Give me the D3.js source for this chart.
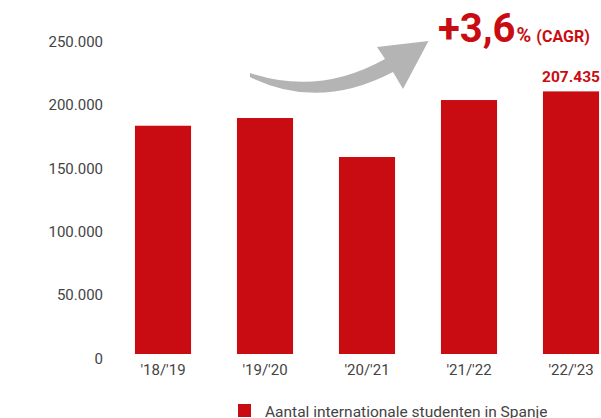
<!DOCTYPE html>
<html>
<head>
<meta charset="utf-8">
<script src="https://cdn.jsdelivr.net/npm/d3@7"></script>
<style>
  html, body { margin: 0; padding: 0; background: #fff; }
  svg { display: block; font-family: Roboto, "Noto Sans", sans-serif; }
</style>
</head>
<body>
<svg id="chart" width="601" height="418"></svg>
<script>
// Academic years and number of international students in Spain
const years = ["'18/'19", "'19/'20", "'20/'21", "'21/'22", "'22/'23"];
const students = [180300, 186400, 155600, 200600, 207435];
const yTicks = [0, 50000, 100000, 150000, 200000, 250000];
const legendLabel = "Aantal internationale studenten in Spanje";
const cagrValue = "+3,6";
const cagrUnit = "%";
const cagrNote = "(CAGR)";

const red = "#c90c12";
const svg = d3.select("#chart");

const x = d3.scaleBand()
  .domain(years)
  .range([112, 622])
  .paddingInner(0.45)
  .paddingOuter(0.225);

const y = d3.scaleLinear()
  .domain([0, 250000])
  .range([354, 37.5]);

const fmt = v => d3.format(",")(v).replace(/,/g, ".");

// Y axis labels (no line, no ticks)
const yAxis = d3.axisLeft(y).tickValues(yTicks).tickFormat(fmt).tickSize(0).tickPadding(0);
const gy = svg.append("g").attr("transform", "translate(103,0)").call(yAxis);
gy.select(".domain").remove();
gy.selectAll("text")
  .attr("dy", null)
  .attr("y", 9)
  .attr("fill", "#444")
  .style("font-size", "15px")
  .style("font-family", "Roboto, sans-serif");

// Bars
svg.append("g").selectAll("rect")
  .data(years)
  .join("rect")
  .attr("x", d => x(d))
  .attr("width", x.bandwidth())
  .attr("y", (d, i) => y(students[i]))
  .attr("height", (d, i) => y(0) - y(students[i]))
  .attr("fill", red);

// X axis labels
const xAxis = d3.axisBottom(x).tickSize(0).tickPadding(0);
const gx = svg.append("g").attr("transform", "translate(0,375)").call(xAxis);
gx.select(".domain").remove();
gx.selectAll("text")
  .attr("dy", null)
  .attr("y", 0)
  .attr("fill", "#444")
  .style("font-size", "15px")
  .style("font-family", "Roboto, sans-serif");

// Value label on the last bar
const last = years.length - 1;
svg.append("text")
  .attr("x", x(years[last]) + x.bandwidth() / 2)
  .attr("y", y(students[last]) - 9.5)
  .attr("text-anchor", "middle")
  .attr("fill", red)
  .attr("font-weight", "bold")
  .attr("font-size", "15.5px")
  .text(fmt(students[last]));

// Curved growth arrow
svg.append("path")
  .attr("d", "M250,73 Q319,96 385,59 L377,47 L428.5,41 L403,89 L393,72 Q318.5,111 250,77 Z")
  .attr("fill", "#b4b4b4");

// CAGR annotation
const cagr = svg.append("text")
  .attr("x", 438)
  .attr("y", 41.5)
  .attr("fill", red)
  .attr("font-weight", "bold");
cagr.append("tspan").attr("font-size", "40px").text(cagrValue);
cagr.append("tspan").attr("font-size", "20px").attr("dx", 1).text(cagrUnit);
cagr.append("tspan").attr("font-size", "16px").attr("dx", 5).text(cagrNote);

// Legend
const legend = svg.append("g");
legend.append("rect")
  .attr("x", 238).attr("y", 404)
  .attr("width", 13).attr("height", 13)
  .attr("fill", red);
legend.append("text")
  .attr("x", 265).attr("y", 416.5)
  .attr("fill", "#444")
  .attr("font-size", "15.5px")
  .text(legendLabel);
</script>
</body>
</html>
